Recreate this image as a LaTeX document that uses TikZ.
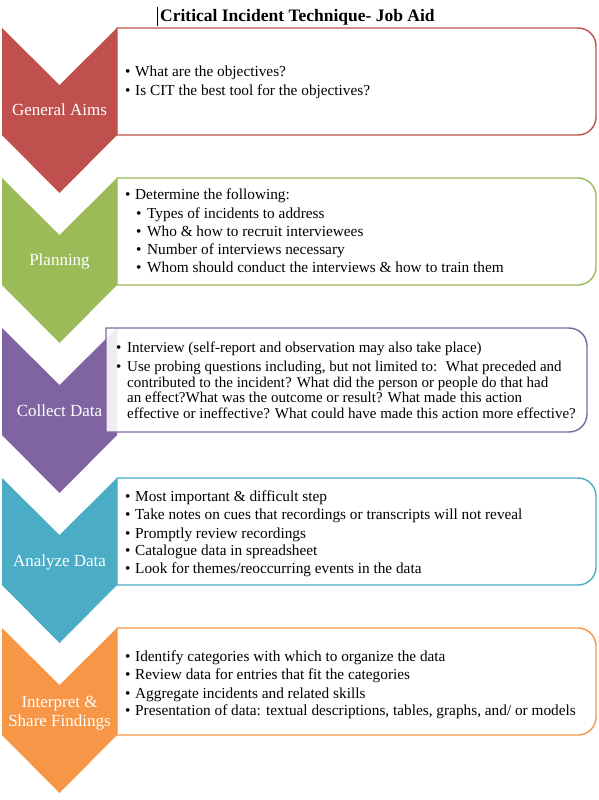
\documentclass[tikz,border=0pt]{standalone}
\usepackage{fontspec}
\setmainfont{Liberation Serif}
\definecolor{cred}{HTML}{C0504D}
\definecolor{cgreen}{HTML}{9BBB59}
\definecolor{cpurple}{HTML}{8064A2}
\definecolor{cblue}{HTML}{4BACC6}
\definecolor{corange}{HTML}{F79646}
\newcommand\chevronat[2]{\fill[#2] (2,-#1) -- (59.5,{-#1-57}) -- (117,-#1) -- (117,{-#1-107}) -- (59.5,{-#1-165}) -- (2,{-#1-107}) -- cycle;}
\newcommand\roundboxat[6]{\draw[boxline,draw=#2,#6] (#3,-#1) -- ({#4-18},-#1) arc[start angle=90,end angle=0,radius=18] -- (#4,{-#1-#5+18}) arc[start angle=0,end angle=-90,radius=18] -- (#3,{-#1-#5}) -- cycle;}
\newcommand\bul{\makebox[10pt][l]{•}}
\newcommand\bulb{\makebox[11pt][l]{•}}
\begin{document}
\begin{tikzpicture}[x=1pt,y=1pt,
  boxline/.style={line width=1.4pt,fill=white},
  lbl/.style={text=white,font=\fontsize{17}{20}\selectfont,inner sep=0,anchor=base},
  itm/.style={font=\fontsize{15.3}{18}\selectfont,inner sep=0,anchor=base west,text=black},
  itmc/.style={itm,font=\fontsize{15}{18}\selectfont},
  ttl/.style={font=\bfseries\fontsize{17.5}{20}\selectfont,inner sep=0,anchor=base west}]
\useasboundingbox (0,0) rectangle (598,-800);
\fill[white] (0,0) rectangle (598,-800);
% title
\node[ttl] (title) at (160,-22) {Critical Incident Technique- Job Aid};
\draw[line width=0.7pt] (157.5,-7) -- (157.5,-26);
% boxes and chevrons
\roundboxat{28}{cred}{117}{596}{107}{}
\roundboxat{178}{cgreen}{117}{596}{107}{}
\roundboxat{478}{cblue}{117}{596}{107}{}
\roundboxat{628}{corange}{117}{596}{107}{}
\chevronat{28}{cred}
\chevronat{178}{cgreen}
\chevronat{328}{cpurple}
\chevronat{478}{cblue}
\chevronat{628}{corange}
\roundboxat{328}{cpurple}{106}{587}{104}{fill opacity=0.88}
% chevron labels
\node[lbl] (l1) at (59.5,-115.5) {General Aims};
\node[lbl] (l2) at (59.5,-265.5) {Planning};
\node[lbl] (l3) at (59.5,-416.5) {Collect Data};
\node[lbl] (l4) at (59.5,-566.5) {Analyze Data};
\node[lbl] (l5a) at (59.5,-707) {Interpret \&};
\node[lbl] (l5b) at (59.5,-726) {Share Findings};
% box 1
\node[itm] (a1) at (125,-76.5) {\bul What are the objectives?};
\node[itm] (a2) at (125,-95.5) {\bul Is CIT the best tool for the objectives?};
% box 2
\node[itm] (b1) at (125,-199.5) {\bul Determine the following:};
\node[itm] (b2) at (136,-218) {\bulb Types of incidents to address};
\node[itm] (b3) at (136,-236.5) {\bulb Who \& how to recruit interviewees};
\node[itm] (b4) at (136,-254.5) {\bulb Number of interviews necessary};
\node[itm] (b5) at (136,-272.5) {\bulb Whom should conduct the interviews \& how to train them};
% box 3
\node[itmc] (c1) at (116,-352.5) {\bulb Interview (self-report and observation may also take place)};
\node[itmc] (c2) at (116,-371.5) {\bulb Use probing questions including, but not limited to:~ What preceded and};
\node[itmc] (c3) at (127,-387) {contributed to the incident? What did the person or people do that had};
\node[itmc] (c4) at (127,-402.5) {an effect?What was the outcome or result? What made this action};
\node[itmc] (c5) at (127,-418) {effective or ineffective? What could have made this action more effective?};
% box 4
\node[itm] (d1) at (125,-501) {\bul Most important \& difficult step};
\node[itm] (d2) at (125,-519.5) {\bul Take notes on cues that recordings or transcripts will not reveal};
\node[itm] (d3) at (125,-538) {\bul Promptly review recordings};
\node[itm] (d4) at (125,-555.5) {\bul Catalogue data in spreadsheet};
\node[itm] (d5) at (125,-573.5) {\bul Look for themes/reoccurring events in the data};
% box 5
\node[itm] (e1) at (125,-661) {\bul Identify categories with which to organize the data};
\node[itm] (e2) at (125,-679.5) {\bul Review data for entries that fit the categories};
\node[itm] (e3) at (125,-698) {\bul Aggregate incidents and related skills};
\node[itm] (e4) at (125,-715) {\bul Presentation of data: textual descriptions, tables, graphs, and/ or models};
\end{tikzpicture}
\end{document}
